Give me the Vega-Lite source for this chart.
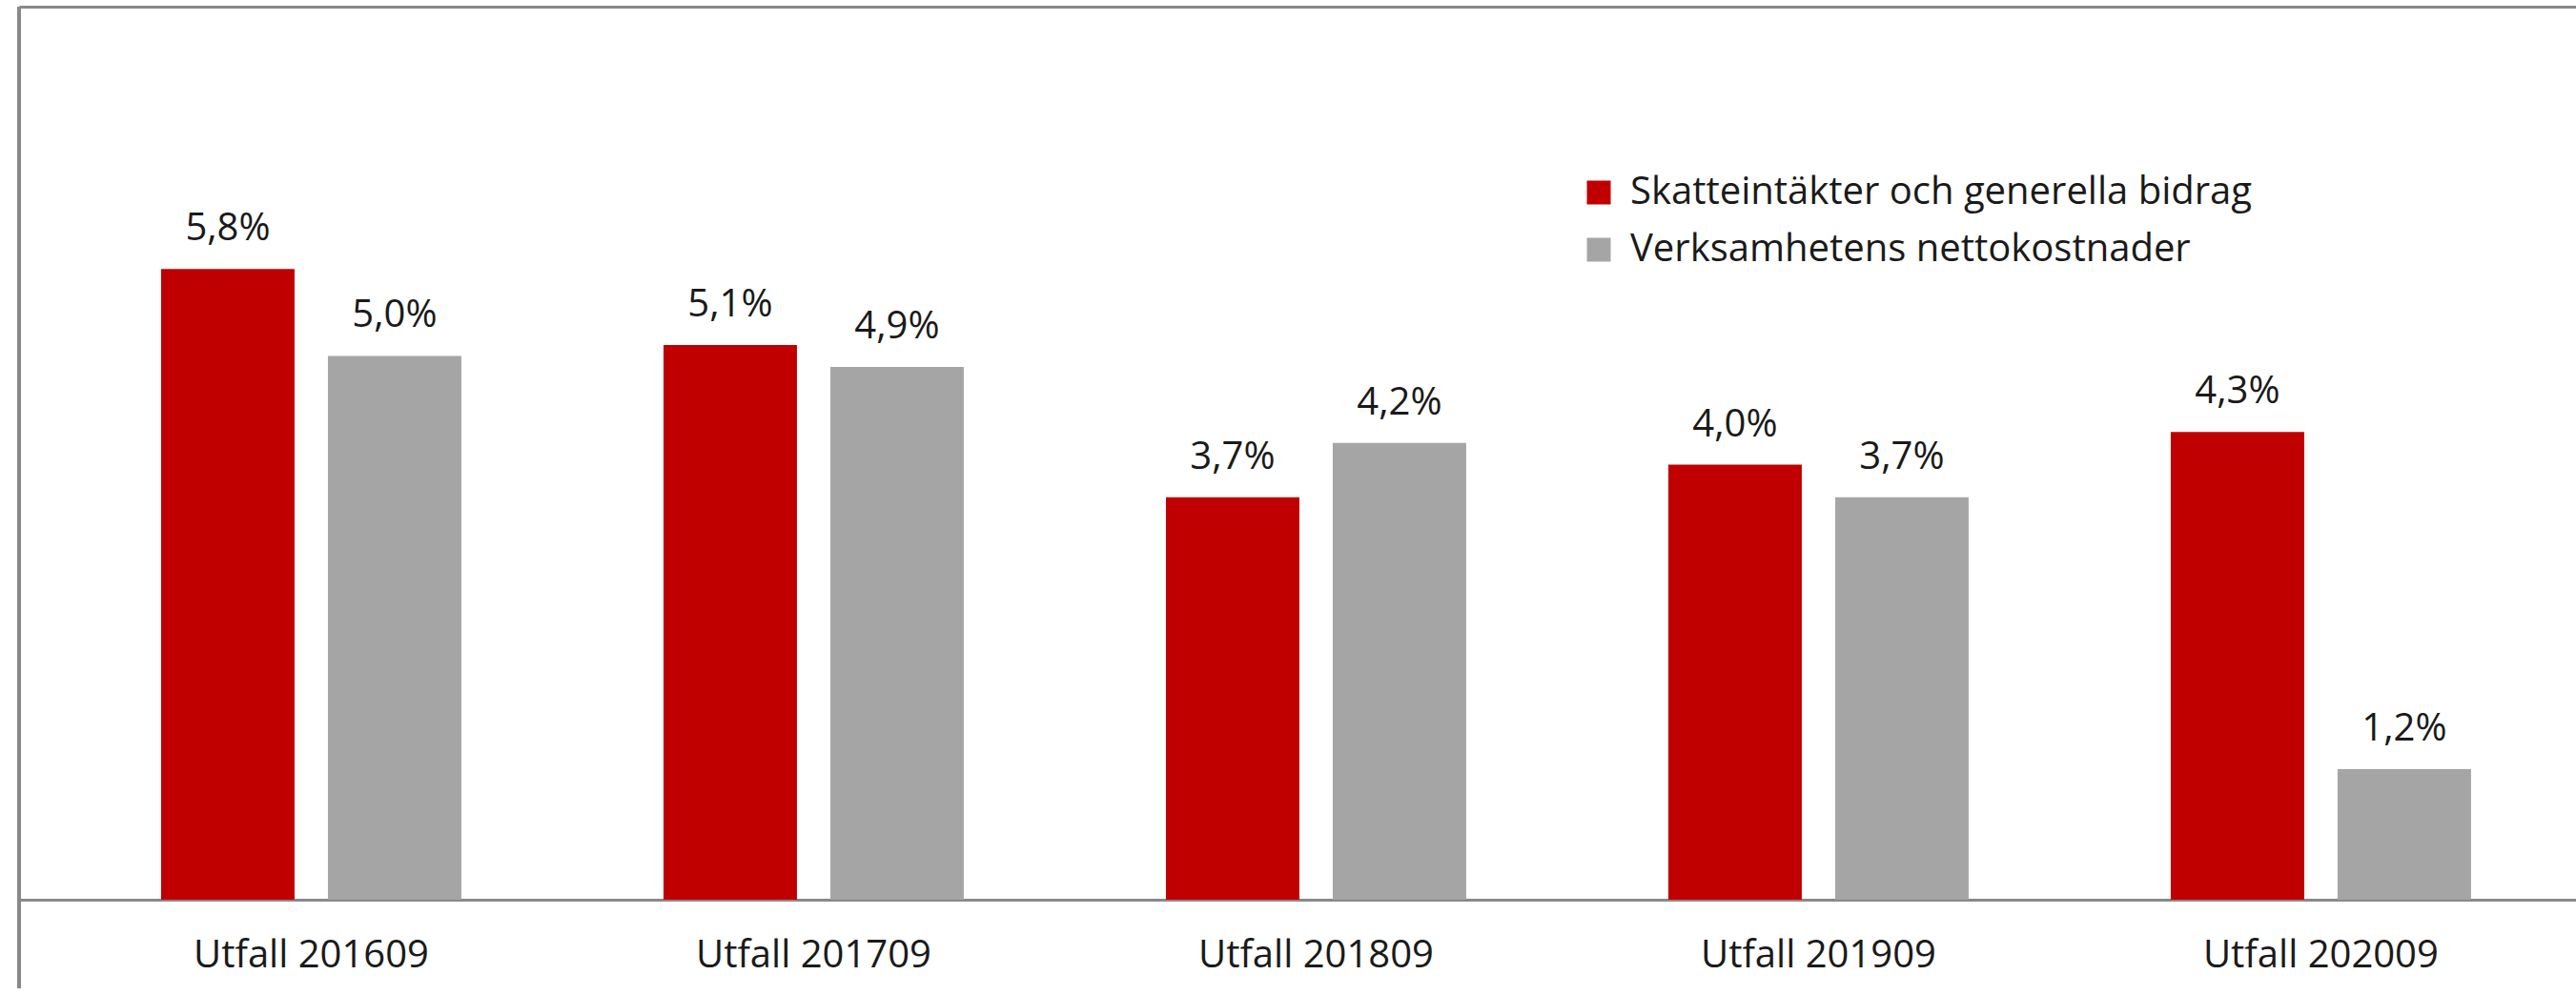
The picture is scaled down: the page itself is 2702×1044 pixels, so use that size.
{
  "$schema": "https://vega.github.io/schema/vega-lite/v6.json",
  "width": 2682,
  "height": 1030,
  "autosize": {"type": "none"},
  "padding": {"left": 20, "top": 7, "right": 0, "bottom": 0},
  "background": "white",
  "data": {
    "values": [
      {"period": "Utfall 201609", "series": "Skatteintäkter och generella bidrag", "value": 0.058},
      {"period": "Utfall 201609", "series": "Verksamhetens nettokostnader", "value": 0.050},
      {"period": "Utfall 201709", "series": "Skatteintäkter och generella bidrag", "value": 0.051},
      {"period": "Utfall 201709", "series": "Verksamhetens nettokostnader", "value": 0.049},
      {"period": "Utfall 201809", "series": "Skatteintäkter och generella bidrag", "value": 0.037},
      {"period": "Utfall 201809", "series": "Verksamhetens nettokostnader", "value": 0.042},
      {"period": "Utfall 201909", "series": "Skatteintäkter och generella bidrag", "value": 0.040},
      {"period": "Utfall 201909", "series": "Verksamhetens nettokostnader", "value": 0.037},
      {"period": "Utfall 202009", "series": "Skatteintäkter och generella bidrag", "value": 0.043},
      {"period": "Utfall 202009", "series": "Verksamhetens nettokostnader", "value": 0.012}
    ]
  },
  "layer": [
    {
      "mark": {"type": "bar"},
      "encoding": {
        "x": {
          "field": "period",
          "type": "nominal",
          "sort": null,
          "scale": {"paddingInner": 0.4023, "paddingOuter": 0.2458, "align": 0.575},
          "axis": {
            "orient": "bottom",
            "offset": -93,
            "title": null,
            "ticks": false,
            "tickSize": 0,
            "labelPadding": 70,
            "labelBaseline": "alphabetic",
            "labelAngle": 0,
            "labelFont": "Open Sans",
            "labelFontSize": 40,
            "labelColor": "#1a1a1a",
            "labelLimit": 0,
            "domainColor": "#898989",
            "domainWidth": 3,
            "grid": false
          }
        },
        "xOffset": {
          "field": "series",
          "type": "nominal",
          "sort": ["Skatteintäkter och generella bidrag", "Verksamhetens nettokostnader"],
          "scale": {"paddingInner": 0.2, "paddingOuter": 0}
        },
        "y": {
          "field": "value",
          "type": "quantitative",
          "scale": {"domain": [-0.00815, 0.08212], "nice": false, "zero": false},
          "axis": null
        },
        "y2": {"datum": 0},
        "color": {
          "field": "series",
          "type": "nominal",
          "scale": {
            "domain": ["Skatteintäkter och generella bidrag", "Verksamhetens nettokostnader"],
            "range": ["#C00000", "#A5A5A5"]
          },
          "legend": {
            "orient": "none",
            "legendX": 1637,
            "legendY": 175,
            "title": null,
            "padding": 0,
            "symbolType": "square",
            "symbolSize": 625,
            "symbolStrokeWidth": 0,
            "symbolOpacity": 1,
            "labelFont": "Open Sans",
            "labelFontSize": 40,
            "labelColor": "#1a1a1a",
            "labelOffset": 13,
            "rowPadding": 20,
            "labelLimit": 0
          }
        }
      }
    },
    {
      "mark": {"type": "text", "dy": -30, "baseline": "alphabetic", "align": "center", "font": "Open Sans", "fontSize": 40, "color": "#1a1a1a"},
      "encoding": {
        "x": {
          "field": "period",
          "type": "nominal",
          "sort": null,
          "axis": {"orient": "top", "title": null, "labels": false, "ticks": false, "grid": false, "domain": true, "domainColor": "#898989", "domainWidth": 3}
        },
        "xOffset": {
          "field": "series",
          "type": "nominal",
          "sort": ["Skatteintäkter och generella bidrag", "Verksamhetens nettokostnader"]
        },
        "y": {"field": "value", "type": "quantitative", "axis": null},
        "text": {"field": "value", "type": "quantitative", "format": ".1%"}
      }
    },
    {
      "mark": {"type": "rule", "color": "#898989", "strokeWidth": 3},
      "encoding": {
        "x": {"datum": "Utfall 201609", "type": "nominal", "bandPosition": -0.473, "axis": null}
      }
    }
  ],
  "resolve": {"axis": {"x": "independent"}},
  "config": {
    "view": {"stroke": null},
    "locale": {
      "number": {"decimal": ",", "thousands": " ", "grouping": [3], "currency": ["", " kr"]}
    }
  }
}
